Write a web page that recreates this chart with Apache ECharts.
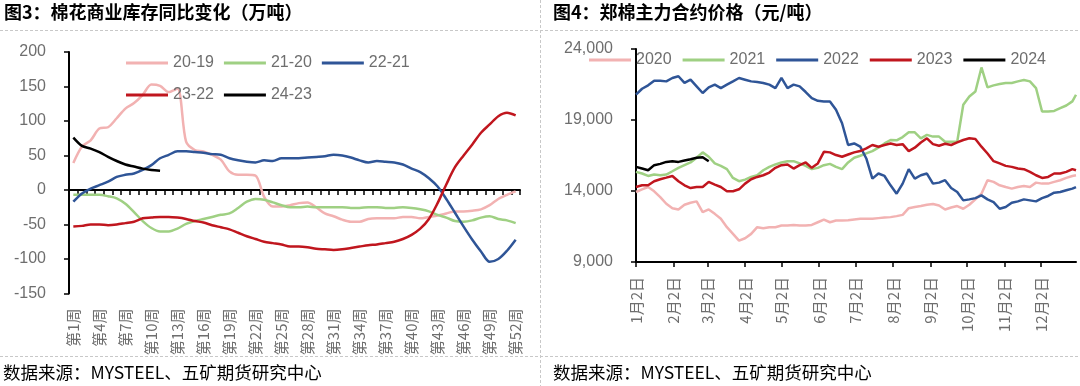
<!DOCTYPE html>
<html><head><meta charset="utf-8">
<script src="https://cdn.jsdelivr.net/npm/echarts@6/dist/echarts.min.js"></script>
<style>html,body{margin:0;padding:0;background:#fff}#c{width:1080px;height:386px}</style>
</head><body><div id="c"></div>
<script>
// ---------- Left chart: commercial stock YoY change (万吨) ----------
const weekLabels = ['第1周','第2周','第3周','第4周','第5周','第6周','第7周','第8周','第9周','第10周','第11周','第12周','第13周','第14周','第15周','第16周','第17周','第18周','第19周','第20周','第21周','第22周','第23周','第24周','第25周','第26周','第27周','第28周','第29周','第30周','第31周','第32周','第33周','第34周','第35周','第36周','第37周','第38周','第39周','第40周','第41周','第42周','第43周','第44周','第45周','第46周','第47周','第48周','第49周','第50周','第51周','第52周'];
const stock2019 = [39,63,72,89,91,104,118,126,138,153,151,142,147,70,58,56,51,44,27,22,22,21,-10,-24,-24,-22,-19,-18,-25,-34,-38,-43,-46,-46,-42,-41,-41,-41,-39,-39,-41,-39,-37,-34,-31,-31,-30,-28,-22,-13,-7,-2];
const stock2020 = [-7,-7,-7,-7,-9,-12,-20,-32,-45,-55,-60,-60,-56,-49,-45,-42,-39,-36,-34,-26,-17,-13,-14,-18,-22,-25,-25,-24,-25,-25,-25,-25,-26,-26,-25,-25,-26,-26,-25,-26,-28,-31,-36,-40,-45,-46,-44,-40,-38,-42,-44,-48];
const stock2021 = [-17,-5,2,7,12,19,22,24,29,36,46,51,56,56,55,54,52,51,46,43,41,40,43,42,46,46,46,47,48,49,51,50,47,43,40,42,41,40,37,31,26,17,5,-13,-33,-53,-72,-89,-104,-100,-88,-72];
const stock2022 = [-53,-52,-50,-50,-51,-50,-48,-46,-41,-40,-39,-39,-40,-42,-45,-47,-51,-54,-57,-62,-67,-71,-75,-77,-79,-82,-82,-83,-85,-86,-87,-86,-84,-82,-80,-79,-77,-75,-71,-65,-56,-42,-19,8,33,50,66,83,95,107,112,108];
const stock2023 = [76,64,60,55,48,42,37,34,31,29,28];
const stockNames = ['20-19','21-20','22-21','23-22','24-23'];

// ---------- Right chart: Zhengzhou cotton main contract price (元/吨) ----------
const priceDates = ['1月2日','1月7日','1月12日','1月17日','1月22日','1月27日','2月1日','2月6日','2月11日','2月16日','2月21日','2月26日','3月3日','3月8日','3月13日','3月18日','3月23日','3月28日','4月2日','4月7日','4月12日','4月17日','4月22日','4月27日','5月2日','5月7日','5月12日','5月17日','5月22日','5月27日','6月1日','6月6日','6月11日','6月16日','6月21日','6月26日','7月1日','7月6日','7月11日','7月16日','7月21日','7月26日','7月31日','8月5日','8月10日','8月15日','8月20日','8月25日','8月30日','9月4日','9月9日','9月14日','9月19日','9月24日','9月29日','10月4日','10月9日','10月14日','10月19日','10月24日','10月29日','11月3日','11月8日','11月13日','11月18日','11月23日','11月28日','12月3日','12月8日','12月13日','12月18日','12月23日','12月28日','12月31日'];
const price2020 = [13930,14120,14280,13980,13570,13100,12790,12700,13030,13170,13270,12510,12700,12390,12040,11450,10980,10500,10670,10980,11450,11380,11450,11450,11570,11570,11610,11570,11570,11610,11800,11990,11800,11920,11920,11940,11990,12040,12040,12040,12090,12130,12160,12230,12320,12790,12870,12940,13030,13080,12980,12700,12840,12940,12750,13030,13410,13810,14760,14640,14400,14280,14170,14280,14350,14280,14590,14520,14520,14640,14760,14920,15060,15110];
const price2021 = [15350,15230,15060,15160,15110,15160,15390,15630,15820,16010,16340,16720,16410,15940,15770,15540,14920,14690,14800,14990,15110,15460,15700,15870,16010,16100,16100,15940,15770,15540,15630,15820,15910,15700,15540,16010,16340,16480,16650,16810,17050,17350,17590,17570,17800,18130,18130,17710,17950,17830,17830,17470,17470,17470,20070,20660,21010,22700,21300,21440,21530,21610,21610,21720,21820,21720,21250,19600,19600,19640,19830,20020,20310,20780];
const price2022 = [20780,21200,21440,21770,21770,21720,21960,22080,21610,21840,21370,20900,21300,21490,21250,21490,21720,21960,21840,21720,21680,21610,21490,21250,21960,21250,21490,21370,20970,20540,20350,20310,20310,19720,18770,17240,17350,17120,16290,14870,15230,15060,14400,13810,14520,15540,14870,15110,15230,14520,14590,14760,14210,13930,13340,13410,13500,13690,13410,13220,12750,12870,13170,13270,13410,13340,13270,13500,13650,13880,13930,14050,14170,14280];
const price2023 = [14280,14400,14400,14690,14830,14940,15060,14690,14400,14210,14280,14280,14640,14450,14280,13980,13980,14120,14520,14830,14990,15110,15300,15630,15820,15870,15580,15820,16010,15630,15940,16760,16720,16530,16410,16570,16720,16810,17000,17240,17120,17240,17350,17240,17300,16810,17050,17420,17710,17300,17190,17330,17240,17420,17590,17710,17660,17120,16640,16100,15940,15770,15700,15580,15540,15350,15110,14920,14990,15230,15230,15350,15540,15460];
const price2024 = [15700,15580,15460,15820,15910,16050,16100,16050,16150,16240,16340,16380,16100];
const priceNames = ['2020','2021','2022','2023','2024'];
const priceTicks = [9000,14000,19000,24000];

const COLORS = ['#F2B2B2','#9FD083','#2F5597','#C0161E','#000000'];
const GRAY = '#6e6e6e';
const NUMFONT = '"Liberation Sans", Arial, sans-serif';
const CJK = '"Noto Sans CJK SC", sans-serif';

// full day-by-day category axis (Jan 2 .. Dec 31)
const monthLen = [31,28,31,30,31,30,31,31,30,31,30,31];
const dayNames = [];
monthLen.forEach((n, m) => { for (let d = 1; d <= n; d++) { if (m === 0 && d === 1) continue; dayNames.push((m+1)+'月'+d+'日'); } });
const isMonthTick = (idx, val) => /^\d+月2日$/.test(val);

const priceData = [price2020, price2021, price2022, price2023, price2024];
const stockData = [stock2019, stock2020, stock2021, stock2022, stock2023];

const series = [];
stockNames.forEach((n, i) => series.push({
  name: n, type: 'line', xAxisIndex: 0, yAxisIndex: 0, data: stockData[i],
  symbol: 'none', smooth: 0.3, lineStyle: { width: 2.5, color: COLORS[i] }, itemStyle: { color: COLORS[i] }
}));
priceNames.forEach((n, i) => series.push({
  name: n, type: 'line', xAxisIndex: 1, yAxisIndex: 1,
  data: priceData[i].map((v, k) => [dayNames.indexOf(priceDates[k]), v]),
  symbol: 'none', smooth: false, lineStyle: { width: 2.5, color: COLORS[i] }, itemStyle: { color: COLORS[i] }
}));

const fmtThousand = v => String(v).replace(/\B(?=(\d{3})+(?!\d))/g, ',');
const legendBase = { icon: 'rect', itemWidth: 42, itemHeight: 3, itemGap: 10,
  textStyle: { fontSize: 16, color: GRAY, fontFamily: NUMFONT }, padding: 0 };
const dash = { stroke: '#c8c8c8', lineWidth: 1, lineDash: [3, 2] };
const titleStyle = { fontSize: 18, fontWeight: 'bold', color: '#000', fontFamily: CJK };
const footStyle = { fontSize: 17.5, fontWeight: 'normal', color: '#000', fontFamily: CJK };

const option = {
  animation: false,
  title: [
    { text: '图3：棉花商业库存同比变化（万吨）', left: 4, top: 3, padding: 0, textStyle: titleStyle },
    { text: '图4：郑棉主力合约价格（元/吨）', left: 553, top: 3, padding: 0, textStyle: titleStyle },
    { text: '数据来源：MYSTEEL、五矿期货研究中心', left: 3, top: 364, padding: 0, textStyle: footStyle },
    { text: '数据来源：MYSTEEL、五矿期货研究中心', left: 553, top: 364, padding: 0, textStyle: footStyle }
  ],
  graphic: [
    { type: 'line', shape: { x1: 0, y1: 30.5, x2: 1080, y2: 30.5 }, style: dash, silent: true },
    { type: 'line', shape: { x1: 0, y1: 356.5, x2: 1080, y2: 356.5 }, style: dash, silent: true },
    { type: 'line', shape: { x1: 540.5, y1: 0, x2: 540.5, y2: 386 }, style: dash, silent: true }
  ],
  legend: [
    Object.assign({}, legendBase, { data: stockNames.slice(0, 3), left: 126, top: 55 }),
    Object.assign({}, legendBase, { data: stockNames.slice(3), left: 126, top: 87 }),
    Object.assign({}, legendBase, { data: priceNames, left: 589, top: 52, itemGap: 11 })
  ],
  grid: [
    { left: 69, top: 52, width: 451, height: 241.5, containLabel: false, outerBoundsMode: 'none' },
    { left: 636, top: 49, width: 440, height: 213, containLabel: false, outerBoundsMode: 'none' }
  ],
  xAxis: [
    { type: 'category', gridIndex: 0, data: weekLabels, boundaryGap: true,
      axisLine: { show: true, onZero: true, lineStyle: { color: '#000', width: 2 } },
      axisTick: { show: true, interval: 0, length: 5, lineStyle: { color: '#000', width: 1.5 } },
      axisLabel: { interval: 2, rotate: 90, margin: 15, fontSize: 15, color: GRAY, fontFamily: CJK },
      splitLine: { show: false } },
    { type: 'category', gridIndex: 1, data: dayNames, boundaryGap: false,
      axisLine: { show: true, onZero: false, lineStyle: { color: '#000', width: 2 } },
      axisTick: { show: true, interval: isMonthTick, length: 5, lineStyle: { color: '#000', width: 1.5 } },
      axisLabel: { interval: isMonthTick, rotate: 90, margin: 15, fontSize: 15, color: GRAY, fontFamily: CJK },
      splitLine: { show: false } }
  ],
  yAxis: [
    { type: 'value', gridIndex: 0, min: -150, max: 200, interval: 50,
      axisLine: { show: true, lineStyle: { color: '#000', width: 2 } },
      axisTick: { show: true, length: 5, lineStyle: { color: '#000', width: 1.5 } },
      axisLabel: { margin: 23, fontSize: 16, color: GRAY, fontFamily: NUMFONT },
      splitLine: { show: false } },
    { type: 'value', gridIndex: 1, min: 9000, max: 24000,
      axisLine: { show: true, lineStyle: { color: '#000', width: 2 } },
      axisTick: { show: true, length: 5, customValues: priceTicks, lineStyle: { color: '#000', width: 1.5 } },
      axisLabel: { customValues: priceTicks, formatter: fmtThousand, margin: 23, fontSize: 16, color: GRAY, fontFamily: NUMFONT },
      splitLine: { show: false } }
  ],
  series: series
};
const chart = echarts.init(document.getElementById('c'));
chart.setOption(option);
</script>
</body></html>
